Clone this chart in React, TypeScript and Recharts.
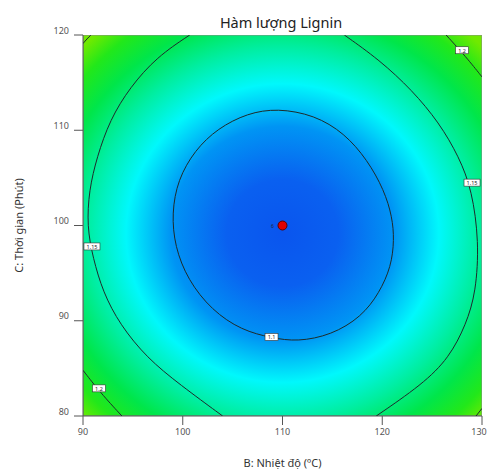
import { ComposedChart, Scatter, XAxis, YAxis, ReferenceArea } from 'recharts';

// Axis ticks
const xTicks = [90, 100, 110, 120, 130];
const yTicks = [80, 90, 100, 110, 120];

// Contour 1.1 (closed ring)
const contour110 = [
  { x: 109.5, y: 112.3 }, { x: 113.2, y: 111.6 }, { x: 116.2, y: 109.7 }, { x: 118.5, y: 106.9 },
  { x: 120.2, y: 103.7 }, { x: 121.0, y: 100.9 }, { x: 121.2, y: 98.5 }, { x: 120.9, y: 95.7 },
  { x: 119.7, y: 92.9 }, { x: 117.9, y: 90.4 }, { x: 114.9, y: 88.5 }, { x: 111.5, y: 87.8 },
  { x: 108.9, y: 88.2 }, { x: 105.9, y: 89.0 }, { x: 102.9, y: 91.1 }, { x: 100.5, y: 94.3 },
  { x: 99.2, y: 97.8 }, { x: 98.9, y: 101.3 }, { x: 99.5, y: 104.8 }, { x: 101.2, y: 107.9 },
  { x: 103.5, y: 110.2 }, { x: 106.5, y: 111.8 },
];

// Contour 1.15 - left arc (top edge -> bottom edge)
const contour115Left = [
  { x: 100.7, y: 120 }, { x: 97.4, y: 117.7 }, { x: 94.7, y: 114.5 }, { x: 92.7, y: 111.1 },
  { x: 91.4, y: 107.2 }, { x: 90.6, y: 103.7 }, { x: 90.4, y: 99.9 }, { x: 91.0, y: 96.6 },
  { x: 92.0, y: 93.0 }, { x: 93.7, y: 89.6 }, { x: 96.4, y: 86.1 }, { x: 99.7, y: 83.3 },
  { x: 104.0, y: 80 },
];

// Contour 1.15 - right arc (bottom edge -> top edge)
const contour115Right = [
  { x: 119.4, y: 80 }, { x: 124.0, y: 83.3 }, { x: 126.7, y: 86.1 }, { x: 128.4, y: 89.6 },
  { x: 129.4, y: 93.0 }, { x: 129.7, y: 98.3 }, { x: 129.0, y: 103.7 }, { x: 127.7, y: 107.2 },
  { x: 125.7, y: 110.8 }, { x: 123.0, y: 114.2 }, { x: 119.7, y: 117.4 }, { x: 116.2, y: 120 },
];

// Contour 1.2 - corner pieces
const contour120TopLeft = [{ x: 90, y: 119.1 }, { x: 90.4, y: 119.6 }, { x: 90.8, y: 120 }];
const contour120TopRight = [{ x: 126.4, y: 120 }, { x: 128.4, y: 117.7 }, { x: 130, y: 115.6 }];
const contour120BottomLeft = [{ x: 90, y: 84.8 }, { x: 91.7, y: 82.5 }, { x: 93.9, y: 80 }];
const contour120BottomRight = [{ x: 129.4, y: 80 }, { x: 130, y: 80.8 }];

// Contour value labels
const contourLabels = [
  { x: 108.9, y: 88.3, label: '1.1' },
  { x: 90.9, y: 97.8, label: '1.15' },
  { x: 129.0, y: 104.5, label: '1.15' },
  { x: 128.0, y: 118.4, label: '1.2' },
  { x: 91.6, y: 82.9, label: '1.2' },
];

// Design centre point
const centerPoint = [{ x: 110, y: 100, count: '6' }];

const lineStyle = { stroke: '#1d2b2b', strokeWidth: 1 };
const noDot = () => <g />;

const ContourLabel = (props: any) => {
  const { cx, cy, payload } = props;
  const w = payload.label.length > 3 ? 16 : 13;
  return (
    <g>
      <rect x={cx - w / 2} y={cy - 3.5} width={w} height={7} fill="#fff" stroke="#333" strokeWidth={0.6} />
      <text x={cx} y={cy + 0.3} fontSize={5.5} fill="#222" textAnchor="middle" dominantBaseline="central">
        {payload.label}
      </text>
    </g>
  );
};

const CenterDot = (props: any) => {
  const { cx, cy, payload } = props;
  return (
    <g>
      <text x={cx - 10} y={cy} fontSize={5} fill="#223" textAnchor="middle" dominantBaseline="central">
        {payload.count}
      </text>
      <circle cx={cx} cy={cy} r={4.5} fill="#e00000" stroke="#5a0000" strokeWidth={1} />
    </g>
  );
};

const YTick = (props: any) => {
  const { x, y, payload } = props;
  return (
    <text x={x} y={y - 5} fontSize={9} fill="#555" textAnchor="end" dominantBaseline="central">
      {payload.value}
    </text>
  );
};

const XTick = (props: any) => {
  const { x, y, payload } = props;
  return (
    <text x={x} y={y + 4} fontSize={9} fill="#555" textAnchor="middle" dominantBaseline="central">
      {payload.value}
    </text>
  );
};

const XLabel = ({ viewBox }: any) => (
  <text x={viewBox.x + viewBox.width / 2} y={viewBox.y + 46} fontSize={11} fill="#333"
    textAnchor="middle" dominantBaseline="central">
    B: Nhiệt độ (ºC)
  </text>
);

const YLabel = ({ viewBox }: any) => {
  const cx = 18;
  const cy = viewBox.y + viewBox.height / 2;
  return (
    <text x={cx} y={cy} fontSize={11} fill="#333" textAnchor="middle" dominantBaseline="central"
      transform={`rotate(-90 ${cx} ${cy})`}>
      C: Thời gian (Phút)
    </text>
  );
};

export default function App() {
  return (
    <div style={{ position: 'absolute', left: 0, top: 0, width: 491, height: 469, fontFamily: '"Noto Sans", sans-serif' }}>
      <svg width={0} height={0} style={{ position: 'absolute' }}>
        <defs>
          <radialGradient id="responseFill" cx="0.5" cy="0.52" r="0.7">
            <stop offset="0" stopColor="#0a55ee" />
            <stop offset="0.2" stopColor="#0a60f0" />
            <stop offset="0.4" stopColor="#0094f4" />
            <stop offset="0.56" stopColor="#00f8fc" />
            <stop offset="0.7" stopColor="#00eea0" />
            <stop offset="0.82" stopColor="#00e64a" />
            <stop offset="0.92" stopColor="#22e81a" />
            <stop offset="1" stopColor="#70ea00" />
          </radialGradient>
        </defs>
      </svg>
      <div style={{ position: 'absolute', left: 0, width: 562, top: 12, textAlign: 'center', fontSize: 14.5, color: '#222' }}>
        Hàm lượng Lignin
      </div>
      <ComposedChart width={491} height={469} margin={{ top: 35, right: 9, bottom: 0, left: 0 }}>
        <XAxis
          type="number"
          dataKey="x"
          domain={[90, 130]}
          ticks={xTicks}
          allowDataOverflow
          height={53}
          tickSize={9}
          tick={<XTick />}
          axisLine={{ stroke: '#555' }}
          tickLine={{ stroke: '#555' }}
          label={<XLabel />}
        />
        <YAxis
          type="number"
          dataKey="y"
          domain={[80, 120]}
          ticks={yTicks}
          allowDataOverflow
          width={83}
          tickSize={9}
          tickMargin={5}
          tick={<YTick />}
          axisLine={{ stroke: '#555' }}
          tickLine={{ stroke: '#555' }}
          label={<YLabel />}
        />
        <ReferenceArea x1={90} x2={130} y1={80} y2={120} fill="url(#responseFill)" fillOpacity={1}
          stroke="#8a8a8a" strokeWidth={1} ifOverflow="hidden" />
        <Scatter data={contour110} line={lineStyle} lineJointType="basisClosed" shape={noDot} isAnimationActive={false} />
        <Scatter data={contour115Left} line={lineStyle} lineJointType="basis" shape={noDot} isAnimationActive={false} />
        <Scatter data={contour115Right} line={lineStyle} lineJointType="basis" shape={noDot} isAnimationActive={false} />
        <Scatter data={contour120TopLeft} line={lineStyle} lineJointType="basis" shape={noDot} isAnimationActive={false} />
        <Scatter data={contour120TopRight} line={lineStyle} lineJointType="basis" shape={noDot} isAnimationActive={false} />
        <Scatter data={contour120BottomLeft} line={lineStyle} lineJointType="basis" shape={noDot} isAnimationActive={false} />
        <Scatter data={contour120BottomRight} line={lineStyle} lineJointType="basis" shape={noDot} isAnimationActive={false} />
        <Scatter data={contourLabels} shape={<ContourLabel />} isAnimationActive={false} />
        <Scatter data={centerPoint} shape={<CenterDot />} isAnimationActive={false} />
      </ComposedChart>
    </div>
  );
}
